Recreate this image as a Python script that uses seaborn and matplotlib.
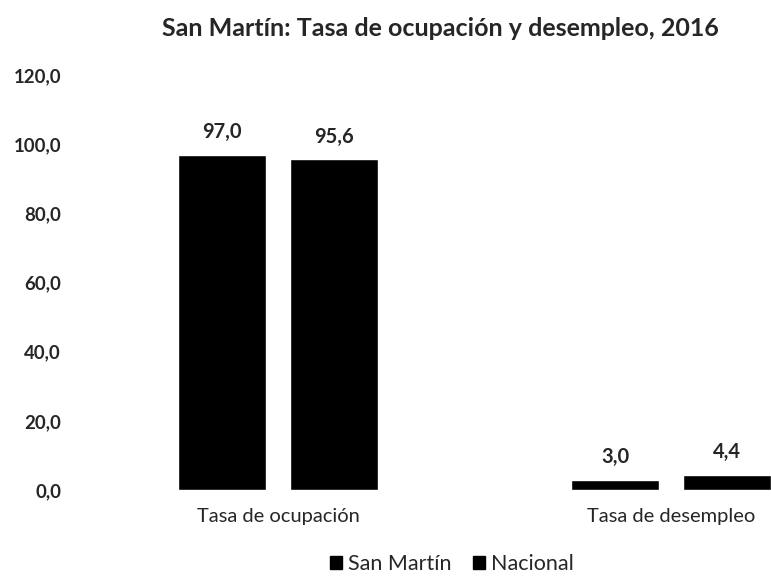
import matplotlib
matplotlib.use("Agg")
import matplotlib.pyplot as plt
from matplotlib.patches import Patch
import seaborn as sns
import pandas as pd

categories = ["Tasa de ocupación", "Tasa de desempleo"]
series = ["San Martín", "Nacional"]
san_martin = [97.0, 3.0]
nacional = [95.6, 4.4]
yticks = [0, 20, 40, 60, 80, 100, 120]

df = pd.DataFrame({
    "cat": categories * 2,
    "serie": [series[0]] * 2 + [series[1]] * 2,
    "valor": san_martin + nacional,
})

sns.set_theme(style="white")
plt.rcParams["font.family"] = ["Lato", "DejaVu Sans"]

fig = plt.figure(figsize=(7.71, 5.76), dpi=100)
W, H = 771, 576
ax = fig.add_axes([100 / W, (H - 490) / H, (W - 100) / W, (490 - 75) / H])

sns.barplot(data=df, x="cat", y="valor", hue="serie", order=categories,
            hue_order=series, palette=["#000000", "#000000"], width=0.57,
            gap=0.214, saturation=1, ax=ax, legend=False)

ax.set_ylim(0, 120)
ax.set_xlim(-0.453, 1.254)
ax.set_yticks(yticks)
ax.set_yticklabels([f"{v:.1f}".replace(".", ",") for v in yticks],
                   fontsize=13.4, fontweight="bold")
ax.tick_params(axis="y", length=0, pad=28)
ax.tick_params(axis="x", length=0, pad=13)
ax.set_xticks([0, 1])
ax.set_xticklabels(categories, fontsize=14.5)
ax.set_xlabel("")
ax.set_ylabel("")
for s in ax.spines.values():
    s.set_visible(False)

for cont in ax.containers:
    labels = [f"{b.get_height():.1f}".replace(".", ",") for b in cont]
    ax.bar_label(cont, labels=labels, padding=9, fontsize=14.5, fontweight="bold")

fig.text(440 / W, 1 - 29 / H, "San Martín: Tasa de ocupación y desempleo, 2016",
         ha="center", va="center", fontsize=18, fontweight="bold")

handles = [Patch(facecolor="black", edgecolor="black") for _ in series]
fig.legend(handles, series, loc="center", bbox_to_anchor=(452 / W, 1 - 564 / H),
           ncol=2, frameon=False, fontsize=15.5, handlelength=0.55,
           handleheight=0.55, handletextpad=0.3, columnspacing=1.0,
           borderpad=0.1)

fig.savefig("out.png", dpi=100)
